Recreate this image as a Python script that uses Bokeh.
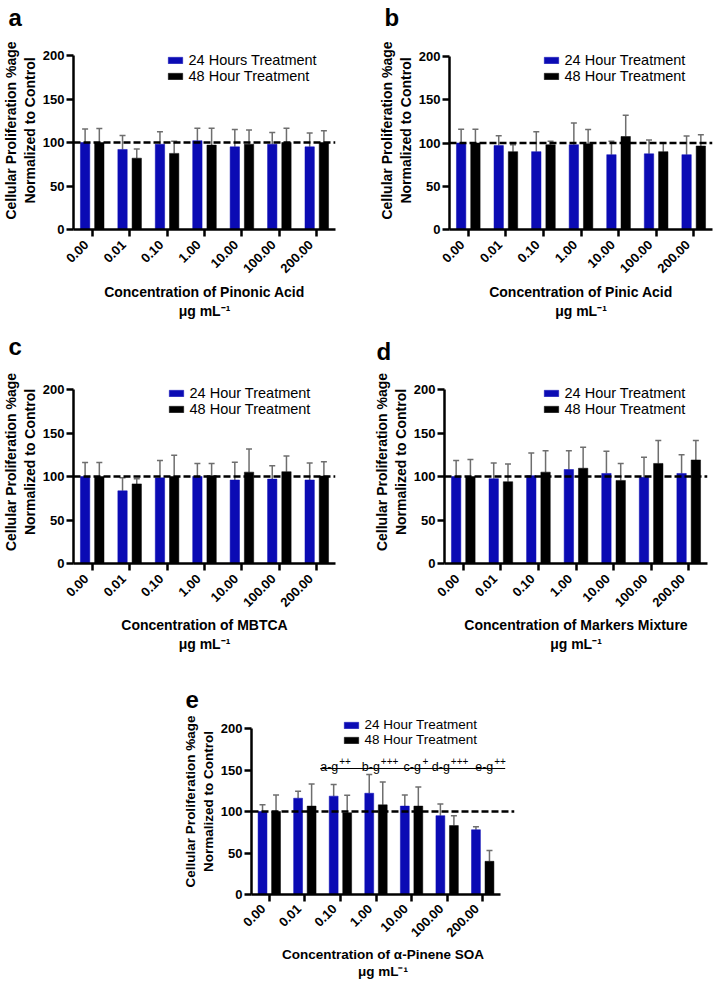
import math
from bokeh.plotting import figure
from bokeh.models import (Range1d, FixedTicker, Span, Whisker, TeeHead, LinearAxis,
                          ColumnDataSource, Label, Legend, LegendItem, Spacer, Arrow, Title)
from bokeh.transform import dodge
from bokeh.layouts import column, row
from bokeh.embed import file_html
from bokeh.resources import INLINE

# ---------------- data ----------------
concentrations = ["0.00", "0.01", "0.10", "1.00", "10.00", "100.00", "200.00"]
y_ticks = [0, 50, 100, 150, 200]
control_level = 100

pinonic_24_mean = [100, 92, 98, 102, 95, 98, 95]
pinonic_24_sd = [15.5, 16, 14.5, 14.5, 20, 13.5, 16]
pinonic_48_mean = [100, 82, 87.5, 97, 98, 100, 100]
pinonic_48_sd = [16, 10.5, 14, 19.5, 16.5, 16.5, 13.5]

pinic_24_mean = [100, 97, 90, 98, 86.5, 87.5, 86.5]
pinic_24_sd = [16, 11.5, 23, 25, 15.5, 16, 21.5]
pinic_48_mean = [100, 90, 98, 99, 107.5, 90, 96.5]
pinic_48_sd = [16, 8, 4, 16.5, 24.5, 10, 13]

mbtca_24_mean = [100, 83.5, 98.5, 100, 96, 97, 96]
mbtca_24_sd = [16, 15, 20, 15, 20.5, 15.5, 19.5]
mbtca_48_mean = [100, 91.5, 100, 101, 105, 105.5, 100.5]
mbtca_48_sd = [16, 6, 24.5, 14, 26.5, 18, 16.5]

mix_24_mean = [100, 97.5, 101, 108, 103.5, 99, 103.5]
mix_24_sd = [18.5, 18, 26, 21.5, 25.5, 23, 21.5]
mix_48_mean = [100, 94, 105, 109.5, 95.5, 115, 119]
mix_48_sd = [19.5, 20.5, 24.5, 24, 19.5, 26.5, 22.5]

soa_24_mean = [100, 116, 118.5, 122, 106.5, 95, 78]
soa_24_sd = [8, 8.5, 14, 22.5, 13.5, 14, 3.5]
soa_48_mean = [100, 106.5, 98.5, 108, 106.5, 83, 40]
soa_48_sd = [20, 26.5, 21, 27.5, 23, 12, 13]

label_48 = "48 Hour Treatment"
y_title_1 = "Cellular Proliferation %age"
y_title_2 = "Normalized to Control"
unit_line = "\u03bcg mL\u207b\u00b9"
sig_groups = ["a-g", "b-g", "c-g", "d-g", "e-g"]
sig_marks = ["++", "+++", "+", "+++", "++"]

# ---------------- styles / layout ----------------
FONT = "Liberation Sans"
BLUE = "#0b0bb4"
BLACK = "#000000"
ERR_COLOR = "#6e6e6e"
OFF = 0.19
BW = 0.25


def style_axis(ax, g):
    ax.axis_line_width = 2.5
    ax.axis_line_color = "black"
    ax.major_tick_line_width = 2.5
    ax.major_tick_line_color = "black"
    ax.major_tick_out = 7
    ax.major_tick_in = 0
    ax.minor_tick_out = 0
    ax.minor_tick_in = 0
    ax.major_label_text_font = FONT
    ax.major_label_text_font_style = "bold"
    ax.major_label_text_font_size = g["tick_fs"]
    ax.major_label_text_color = "black"
    ax.axis_label_text_font = FONT
    ax.axis_label_text_font_style = "bold"
    ax.axis_label_text_font_size = f"{g['title_fs']}px"
    ax.axis_label_text_color = "black"


def make_panel(letter, compound, legend24, m24, sd24, m48, sd48, g):
    fw, fh = g["frame"]
    extra_top, extra_right = g["extra"]
    FW, FH = fw + extra_right, fh + extra_top
    bl, br, bt, bb = g["borders"]
    n = len(concentrations)
    xpos = [i + 0.5 for i in range(n)]
    ymax = y_ticks[-1] * FH / fh
    xmax = n * FW / fw
    src = ColumnDataSource(dict(
        x=xpos, conc=concentrations, m24=m24, m48=m48,
        up24=[m + s for m, s in zip(m24, sd24)],
        up48=[m + s for m, s in zip(m48, sd48)]))
    p = figure(frame_width=FW, frame_height=FH,
               min_border_left=bl, min_border_right=br,
               min_border_top=bt, min_border_bottom=bb,
               x_range=Range1d(0, xmax), y_range=Range1d(y_ticks[0], ymax),
               output_backend="svg", toolbar_location=None, tools="")
    p.xgrid.visible = False
    p.ygrid.visible = False
    p.outline_line_color = None
    p.background_fill_color = "white"
    p.border_fill_color = "white"

    # panel letter just above the (tall, partly blank) frame
    p.title = Title(text=letter, align="left", offset=g["letter_dx"],
                    standoff=g["letter_so"], text_font=FONT,
                    text_font_size=f"{g['letter_fs']}px", text_font_style="bold",
                    text_color="black")

    r24 = p.vbar(x=dodge("x", -OFF), top="m24", width=BW,
                 source=src, fill_color=BLUE, line_color=BLUE, line_width=0.5)
    r48 = p.vbar(x=dodge("x", OFF), top="m48", width=BW,
                 source=src, fill_color=BLACK, line_color=BLACK, line_width=0.5)
    for off, lo, up in ((-OFF, "m24", "up24"), (OFF, "m48", "up48")):
        w = Whisker(base=dodge("x", off), lower=lo, upper=up,
                    source=src, dimension="height", line_color=ERR_COLOR,
                    line_width=1.5, lower_head=None,
                    upper_head=TeeHead(size=6, line_color=ERR_COLOR, line_width=1.5))
        p.add_layout(w)

    p.add_layout(Span(location=control_level, dimension="width", line_color="black",
                      line_width=2.5, line_dash="7 3"))

    style_axis(p.xaxis[0], g)
    style_axis(p.yaxis[0], g)
    p.yaxis.ticker = FixedTicker(ticks=y_ticks)
    p.yaxis.bounds = (y_ticks[0], y_ticks[-1])
    p.yaxis.major_label_standoff = 2

    # x axis: line + ticks at the categories
    p.xaxis.ticker = FixedTicker(ticks=xpos)
    p.xaxis.major_label_overrides = {x: "" for x in xpos}
    p.xaxis.major_label_text_font_size = "1px"
    p.xaxis.major_label_standoff = 0
    p.xaxis.bounds = (0, n)

    # second x axis: slanted concentration labels, ending at their ticks
    shift = g["label_shift_px"] * xmax / FW
    lpos = [x - shift for x in xpos]
    lab_axis = LinearAxis(ticker=FixedTicker(ticks=lpos),
                          major_label_overrides={x: c for x, c in zip(lpos, concentrations)})
    style_axis(lab_axis, g)
    lab_axis.axis_line_color = None
    lab_axis.major_tick_line_color = None
    lab_axis.major_tick_out = 0
    lab_axis.major_label_orientation = math.pi / 4
    lab_axis.major_label_standoff = g["xtick_standoff"]
    lab_axis.axis_label = "Concentration of " + compound + "\n" + unit_line
    lab_axis.axis_label_standoff = g["xt_standoff"]
    lab_axis.axis_label_text_line_height = g["xt_lh"]
    p.add_layout(lab_axis, "below")

    # two-line y title as stacked side titles (closest first)
    for txt, so in ((y_title_2, g["yt_standoff"][0]), (y_title_1, g["yt_standoff"][1])):
        p.add_layout(Title(text=txt, align="center", offset=-extra_top / 2 + g["yt_shift"],
                           standoff=so, text_font=FONT, text_font_size=f"{g['title_fs']}px",
                           text_font_style="bold", text_color="black"), "left")

    def lab(text, dx, dy, size, style="normal", align="left", baseline="alphabetic"):
        p.add_layout(Label(x=dx / FW * xmax, y=-dy / FH * ymax, x_units="data", y_units="data",
                           text=text, text_font=FONT, text_font_size=f"{size}px",
                           text_font_style=style, text_align=align, text_baseline=baseline,
                           text_color="black"))

    legend = Legend(items=[LegendItem(label=legend24, renderers=[r24]),
                           LegendItem(label=label_48, renderers=[r48])],
                    padding=0, margin=0, spacing=0, glyph_width=18, glyph_height=8,
                    label_standoff=5, label_height=15,
                    label_text_font=FONT, label_text_font_size=g["leg_fs"],
                    label_text_color="black",
                    border_line_color=None, background_fill_alpha=0.0)
    leg_dx, leg_top = g["legend"]
    legend.location = (leg_dx - 7.5, FH - (extra_top + leg_top - 4) - 32)
    p.add_layout(legend)
    return p, lab, (FW, FH, xmax, ymax)


base = dict(tick_fs="13px", title_fs=14, letter_fs=24, leg_fs="14.5px", letter_so=1,
            yt_standoff=(3, 0), yt_shift=0, xtick_standoff=6, xt_standoff=4,
            xt_lh=1.18, label_shift_px=6)

g_a = dict(base, frame=(262, 174), extra=(24, 0), borders=(70, 24, 31, 90),
           letter_dx=-65, legend=(100, 0.5))
g_b = dict(base, frame=(263, 173), extra=(25, 0), borders=(90, 2, 31, 90),
           letter_dx=-65, legend=(100, 0))
g_c = dict(base, frame=(262, 174), extra=(29, 0), borders=(70, 24, 39, 89),
           letter_dx=-65, legend=(101, 0.3), xt_standoff=3)
g_d = dict(base, frame=(263, 174), extra=(29, 0), borders=(85, 7, 39, 89),
           letter_dx=-68, legend=(105, 0.3), xt_standoff=3, letter_so=-9)
g_e = dict(base, frame=(249, 166), extra=(20, 14), borders=(71, 16, 54, 90),
           letter_dx=-66, legend=(98, -9), letter_so=2, title_fs=13.5, leg_fs="13.5px",
           xtick_standoff=5, xt_standoff=3, xt_lh=1.16, yt_standoff=(3, 0), yt_shift=4.5)

pa, _, _ = make_panel("a", "Pinonic Acid", "24 Hours Treatment",
                      pinonic_24_mean, pinonic_24_sd, pinonic_48_mean, pinonic_48_sd, g_a)
pb, _, _ = make_panel("b", "Pinic Acid", "24 Hour Treatment",
                      pinic_24_mean, pinic_24_sd, pinic_48_mean, pinic_48_sd, g_b)
pc, _, _ = make_panel("c", "MBTCA", "24 Hour Treatment",
                      mbtca_24_mean, mbtca_24_sd, mbtca_48_mean, mbtca_48_sd, g_c)
pd, _, _ = make_panel("d", "Markers Mixture", "24 Hour Treatment",
                      mix_24_mean, mix_24_sd, mix_48_mean, mix_48_sd, g_d)
pe, lab_e, (FW_e, FH_e, xmax_e, ymax_e) = make_panel(
    "e", "\u03b1-Pinene SOA", "24 Hour Treatment",
    soa_24_mean, soa_24_sd, soa_48_mean, soa_48_sd, g_e)

# significance annotation on panel e (pixel offsets from frame left / axis bottom)
sig_dx = [68.7, 110.3, 152, 180.3, 223.7]
for grp, mark, dx in zip(sig_groups, sig_marks, sig_dx):
    lab_e(grp, dx, -127.7, 12.5)
    lab_e(mark, dx + 19, -134, 10)
line_y = 126 / FH_e * ymax_e
pe.add_layout(Arrow(x_start=68.7 / FW_e * xmax_e, x_end=253.7 / FW_e * xmax_e,
                    y_start=line_y, y_end=line_y,
                    start=None, end=None, line_color="black", line_width=1.2))

layout = column(row(pa, pb), row(pc, pd), row(Spacer(width=180, height=10), pe))

with open("out.html", "w") as f:
    f.write(file_html(layout, INLINE))
